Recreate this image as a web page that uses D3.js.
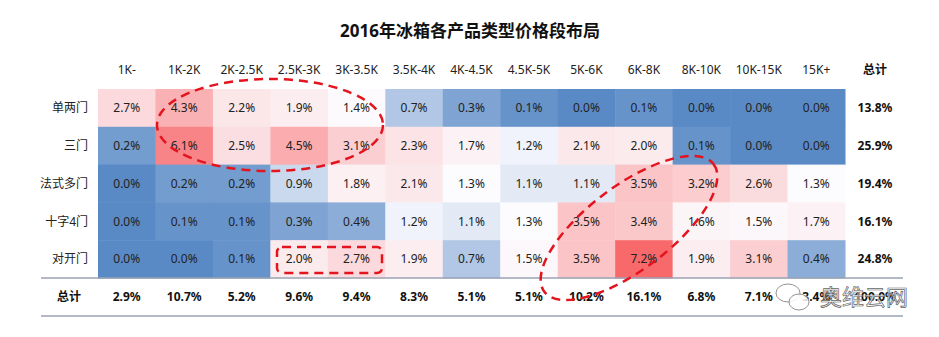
<!DOCTYPE html>
<html>
<head>
<meta charset="utf-8">
<script src="https://cdn.jsdelivr.net/npm/d3@7"></script>
<style>
  body { margin: 0; background: #fff; }
  svg text { font-family: "Segoe UI", "Noto Sans", "Noto Sans CJK SC", sans-serif; }
</style>
</head>
<body>
<div id="chart"></div>
<script>

var title = "2016年冰箱各产品类型价格段布局";

var priceBands = ["1K-", "1K-2K", "2K-2.5K", "2.5K-3K", "3K-3.5K", "3.5K-4K", "4K-4.5K", "4.5K-5K", "5K-6K", "6K-8K", "8K-10K", "10K-15K", "15K+"];

var doorTypes = ["单两门", "三门", "法式多门", "十字4门", "对开门"];

var shares1 = [2.7, 4.3, 2.2, 1.9, 1.4, 0.7, 0.3, 0.1, 0.0, 0.1, 0.0, 0.0, 0.0];
var shares2 = [0.2, 6.1, 2.5, 4.5, 3.1, 2.3, 1.7, 1.2, 2.1, 2.0, 0.1, 0.0, 0.0];
var shares3 = [0.0, 0.2, 0.2, 0.9, 1.8, 2.1, 1.3, 1.1, 1.1, 3.5, 3.2, 2.6, 1.3];
var shares4 = [0.0, 0.1, 0.1, 0.3, 0.4, 1.2, 1.1, 1.3, 3.5, 3.4, 1.6, 1.5, 1.7];
var shares5 = [0.0, 0.0, 0.1, 2.0, 2.7, 1.9, 0.7, 1.5, 3.5, 7.2, 1.9, 3.1, 0.4];

var rowTotals = [13.8, 25.9, 19.4, 16.1, 24.8];
var colTotals = [2.9, 10.7, 5.2, 9.6, 9.4, 8.3, 5.1, 5.1, 10.2, 16.1, 6.8, 7.1, 3.4];
var grandTotal = 100.0;

var totalLabel = "总计";
var watermark = "奥维云网";

var W = 939, H = 337;

var svg = d3.select("#chart")
            .append("svg")
            .attr("width", W)
            .attr("height", H);

//build the cell list from the row arrays
var allShares = [shares1, shares2, shares3, shares4, shares5];
var cells = [];
allShares.forEach(function(row, r) {
  row.forEach(function(v, c) {
    cells.push({door: doorTypes[r], band: priceBands[c], value: v});
  });
});

//scales for the grid
var xScale = d3.scaleBand()
               .domain(priceBands)
               .range([98, 845]);

var yScale = d3.scaleBand()
               .domain(doorTypes)
               .range([89, 278]);

//excel style 3 colour scale: min blue, median white, max red
var values = cells.map(function(d) { return d.value; });
var colorScale = d3.scaleLinear()
                   .domain([d3.min(values), d3.median(values), d3.max(values)])
                   .range(["#5A8AC6", "#FCFCFF", "#F8696B"]);

var totalX = 875;
var totalY = 297;

//title
svg.append("text")
   .attr("x", 470)
   .attr("y", 31)
   .attr("dy", "0.35em")
   .attr("text-anchor", "middle")
   .style("font-size", "17px")
   .style("font-weight", "bold")
   .style("fill", "#111")
   .text(title);

//heat cells
svg.selectAll(".cell")
   .data(cells)
   .enter()
   .append("rect")
   .attr("class", "cell")
   .attr("x", function(d) { return xScale(d.band); })
   .attr("y", function(d) { return yScale(d.door); })
   .attr("width", xScale.bandwidth() + 0.5)
   .attr("height", yScale.bandwidth() + 0.5)
   .style("fill", function(d) { return colorScale(d.value); });

svg.selectAll(".cell-label")
   .data(cells)
   .enter()
   .append("text")
   .attr("class", "cell-label")
   .attr("x", function(d) { return xScale(d.band) + xScale.bandwidth() / 2; })
   .attr("y", function(d) { return yScale(d.door) + yScale.bandwidth() / 2; })
   .attr("dy", "0.35em")
   .attr("text-anchor", "middle")
   .style("font-size", "12px")
   .style("fill", "#222")
   .text(function(d) { return d.value.toFixed(1) + "%"; });

//column headers
svg.selectAll(".col-head")
   .data(priceBands)
   .enter()
   .append("text")
   .attr("class", "col-head")
   .attr("x", function(d) { return xScale(d) + xScale.bandwidth() / 2; })
   .attr("y", 70)
   .attr("dy", "0.35em")
   .attr("text-anchor", "middle")
   .style("font-size", "12px")
   .style("fill", "#222")
   .text(function(d) { return d; });

svg.append("text")
   .attr("x", totalX)
   .attr("y", 70)
   .attr("dy", "0.35em")
   .attr("text-anchor", "middle")
   .style("font-size", "12px")
   .style("font-weight", "bold")
   .style("fill", "#111")
   .text(totalLabel);

//row labels
svg.selectAll(".row-head")
   .data(doorTypes)
   .enter()
   .append("text")
   .attr("class", "row-head")
   .attr("x", 88)
   .attr("y", function(d) { return yScale(d) + yScale.bandwidth() / 2; })
   .attr("dy", "0.35em")
   .attr("text-anchor", "end")
   .style("font-size", "12px")
   .style("fill", "#222")
   .text(function(d) { return d; });

//row totals
svg.selectAll(".row-total")
   .data(rowTotals)
   .enter()
   .append("text")
   .attr("class", "row-total")
   .attr("x", totalX)
   .attr("y", function(d, i) { return yScale(doorTypes[i]) + yScale.bandwidth() / 2; })
   .attr("dy", "0.35em")
   .attr("text-anchor", "middle")
   .style("font-size", "12px")
   .style("font-weight", "bold")
   .style("fill", "#111")
   .text(function(d) { return d.toFixed(1) + "%"; });

//totals row
svg.append("text")
   .attr("x", 69)
   .attr("y", totalY)
   .attr("dy", "0.35em")
   .attr("text-anchor", "middle")
   .style("font-size", "12px")
   .style("font-weight", "bold")
   .style("fill", "#111")
   .text(totalLabel);

svg.selectAll(".col-total")
   .data(colTotals)
   .enter()
   .append("text")
   .attr("class", "col-total")
   .attr("x", function(d, i) { return xScale(priceBands[i]) + xScale.bandwidth() / 2; })
   .attr("y", totalY)
   .attr("dy", "0.35em")
   .attr("text-anchor", "middle")
   .style("font-size", "12px")
   .style("font-weight", "bold")
   .style("fill", "#111")
   .text(function(d) { return d.toFixed(1) + "%"; });

svg.append("text")
   .attr("x", totalX)
   .attr("y", totalY)
   .attr("dy", "0.35em")
   .attr("text-anchor", "middle")
   .style("font-size", "12px")
   .style("font-weight", "bold")
   .style("fill", "#111")
   .text(grandTotal.toFixed(1) + "%");

//separator lines
[278, 316].forEach(function(y) {
  svg.append("line")
     .attr("x1", 41)
     .attr("x2", 903)
     .attr("y1", y)
     .attr("y2", y)
     .style("stroke", "#9aa3b3")
     .style("stroke-width", 1.5);
});

//red dashed annotations
var ann = svg.append("g")
             .style("fill", "none")
             .style("stroke", "#e3141d")
             .style("stroke-width", 2.5)
             .style("stroke-dasharray", "9,6");

ann.append("ellipse")
   .attr("cx", 270)
   .attr("cy", 125)
   .attr("rx", 113)
   .attr("ry", 46);

ann.append("ellipse")
   .attr("transform", "translate(629,228) rotate(-37)")
   .attr("rx", 106)
   .attr("ry", 42);

ann.append("rect")
   .attr("x", 277)
   .attr("y", 247)
   .attr("width", 105)
   .attr("height", 26)
   .attr("rx", 5);

//watermark (wechat bubbles + name), drawn over the totals row
var wm = svg.append("g")
            .attr("transform", "translate(792,297)");

wm.append("ellipse")
  .attr("cx", -4)
  .attr("cy", -4)
  .attr("rx", 12)
  .attr("ry", 9)
  .style("fill", "rgba(255,255,255,0.85)")
  .style("stroke", "#777")
  .style("stroke-width", 0.8);

wm.append("ellipse")
  .attr("cx", 7)
  .attr("cy", 5)
  .attr("rx", 10)
  .attr("ry", 8)
  .style("fill", "rgba(255,255,255,0.85)")
  .style("stroke", "#777")
  .style("stroke-width", 0.8);

wm.append("text")
  .attr("x", 28)
  .attr("y", 0)
  .attr("dy", "0.35em")
  .style("font-size", "22px")
  .style("font-family", "'Noto Sans CJK SC', sans-serif")
  .style("fill", "rgba(255,255,255,0.7)")
  .style("stroke", "#666")
  .style("stroke-width", 0.7)
  .text(watermark);

</script>
</body>
</html>
